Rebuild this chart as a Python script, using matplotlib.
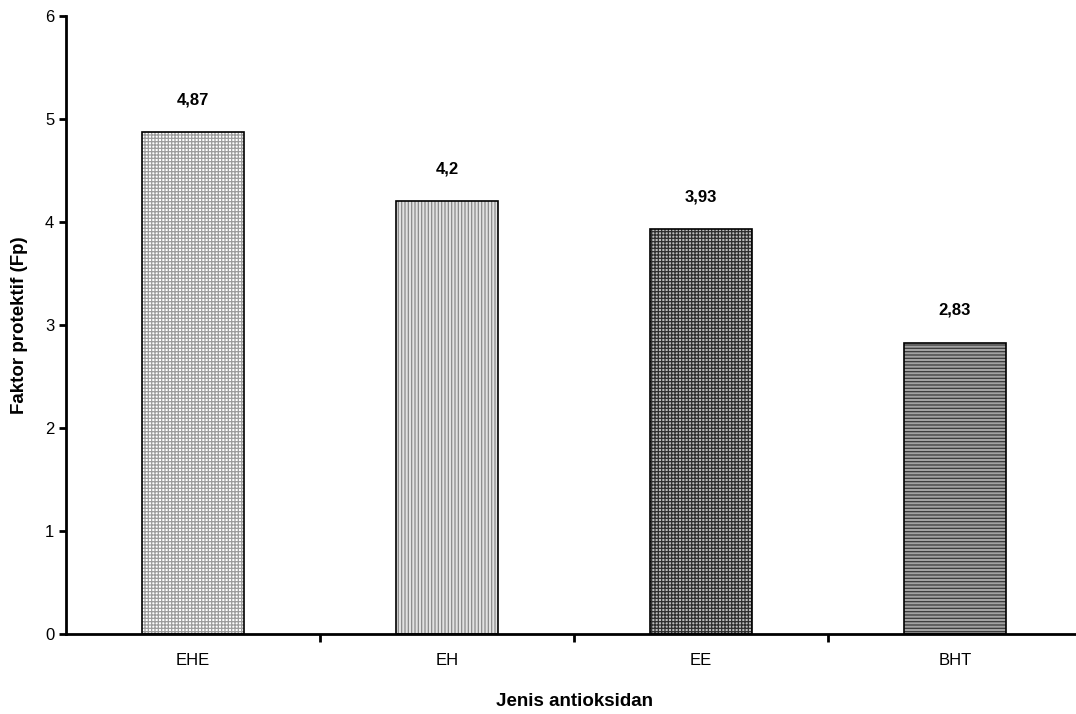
import matplotlib
matplotlib.use("Agg")
import matplotlib.pyplot as plt

jenis = ["EHE", "EH", "EE", "BHT"]
fp = [4.87, 4.2, 3.93, 2.83]
label_nilai = ["4,87", "4,2", "3,93", "2,83"]

# warna dasar dan arsiran tiap batang
warna = ["#ffffff", "#e2e2e2", "#bdbdbd", "#a2a2a2"]
warna_arsir = ["#9c9c9c", "#8a8a8a", "#2e2e2e", "#3a3a3a"]
arsir = ["+++++", "|||||", "+++++", "-----"]

plt.rcParams['font.family'] = ['Liberation Sans', 'DejaVu Sans']
plt.rcParams['hatch.linewidth'] = 0.9

fig = plt.figure(figsize=(10.76, 7.14), dpi=100)
ax = fig.add_axes([66/1076, 80/714, 1016/1076, 618/714])

x = list(range(len(jenis)))
for i in x:
    ax.bar(i, fp[i], width=0.40, color=warna[i], edgecolor=warna_arsir[i],
           hatch=arsir[i], linewidth=0)
ax.bar(x, fp, width=0.40, fill=False, edgecolor="black", linewidth=1.2)

for i in x:
    ax.annotate(label_nilai[i], (i, fp[i]), xytext=(0, 18), textcoords="offset points",
                ha="center", va="bottom", fontsize=12, fontweight="bold")

ax.set_xlim(-0.5, 3.5)
ax.set_ylim(0, 6)
ax.set_yticks([0, 1, 2, 3, 4, 5, 6])
ax.set_xticks(x)
ax.set_xticklabels(jenis)
ax.set_xticks([0.5, 1.5, 2.5], minor=True)
ax.tick_params(axis="x", which="major", length=0, pad=14, labelsize=12)
ax.tick_params(axis="x", which="minor", length=6, width=2, direction="out")
ax.tick_params(axis="y", length=5, width=2, direction="out", labelsize=12)

ax.spines["top"].set_visible(False)
ax.spines["right"].set_visible(False)
ax.spines["left"].set_linewidth(2)
ax.spines["bottom"].set_linewidth(2)

ax.set_ylabel("Faktor protektif (Fp)", fontsize=13.5, fontweight="bold", labelpad=12)
ax.set_xlabel("Jenis antioksidan", fontsize=13.5, fontweight="bold", labelpad=18)

fig.savefig("out.png", dpi=100)
